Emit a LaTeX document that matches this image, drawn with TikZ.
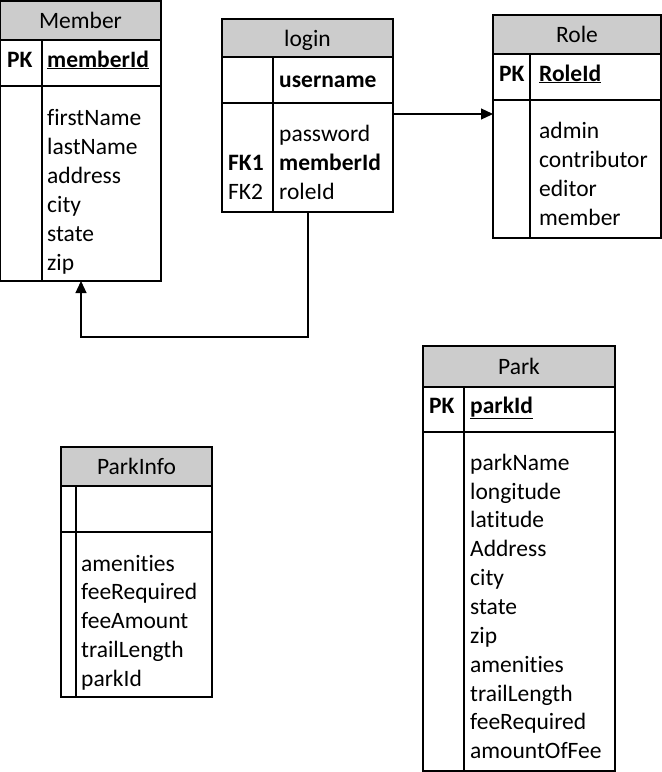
\documentclass[tikz,border=0pt]{standalone}
\usepackage{fontspec}
\setmainfont[Ligatures={NoCommon}]{Carlito}
\usetikzlibrary{arrows.meta}
\definecolor{hdr}{RGB}{204,204,204}
\newcommand\ertable[8]{%
  \fill[hdr] (#2,#3) rectangle (#4,#6);
  \node[tbl, minimum width={#4-#2}, minimum height={#5-#3}] (#1) at (#2,#3) {};
  \draw[ln] (#2,#6) -- (#4,#6) (#2,#7) -- (#4,#7) (#8,#6) -- (#8,#5);
}
\begin{document}
\begin{tikzpicture}[x=1pt,y=-1pt,
  ln/.style={line width=1.2pt},
  tbl/.style={draw=black, line width=1.2pt, inner sep=0pt, outer sep=0pt, anchor=north west},
  txt/.style={anchor=base west, inner sep=0pt, font=\fontsize{23.5}{27}\selectfont},
  ttl/.style={anchor=base, inner sep=0pt, font=\fontsize{23.5}{27}\selectfont},
  arr/.style={line width=1.2pt, -{Triangle[length=12pt,width=11pt]}}]
\useasboundingbox (0,0) rectangle (662,772);

% Member
\ertable{member}{0.6}{1}{161}{281}{40}{86}{42}
\node[ttl] (memberT) at (80.5,28) {Member};
\node[txt] (memberPK) at (7,67) {\textbf{PK}};
\node[txt] (memberK) at (47,67) {\textbf{\underline{memberId}}};
\node[txt] (m1) at (47,125) {firstName};
\node[txt] (m2) at (47,154) {lastName};
\node[txt] (m3) at (47,183) {address};
\node[txt] (m4) at (47,212) {city};
\node[txt] (m5) at (47,241) {state};
\node[txt] (m6) at (47,270) {zip};

% login
\ertable{login}{222}{19}{393}{212}{57}{103}{273}
\node[ttl] (loginT) at (307.5,46) {login};
\node[txt] (loginK) at (279,87) {\textbf{username}};
\node[txt] (l1) at (279,141) {password};
\node[txt] (l2) at (279,170) {\textbf{memberId}};
\node[txt] (l3) at (279,199) {roleId};
\node[txt] (fk1) at (228,170) {\textbf{FK1}};
\node[txt] (fk2) at (228,199) {FK2};

% Role
\ertable{role}{493}{15}{661}{238}{54}{100}{530}
\node[ttl] (roleT) at (577,42) {Role};
\node[txt] (rolePK) at (499,81) {\textbf{PK}};
\node[txt] (roleK) at (539,81) {\textbf{\underline{RoleId}}};
\node[txt] (r1) at (539,138) {admin};
\node[txt] (r2) at (539,167) {contributor};
\node[txt] (r3) at (539,196) {editor};
\node[txt] (r4) at (539,225) {member};

% Park
\ertable{park}{423}{346}{615}{771}{387}{432}{464}
\node[ttl] (parkT) at (519,374) {Park};
\node[txt] (parkPK) at (429,413) {\textbf{PK}};
\node[txt] (parkK) at (470,413) {\textbf{\underline{parkId}}};
\node[txt] (p1) at (470,470) {parkName};
\node[txt] (p2) at (470,499) {longitude};
\node[txt] (p3) at (470,527) {latitude};
\node[txt] (p4) at (470,556) {Address};
\node[txt] (p5) at (470,585) {city};
\node[txt] (p6) at (470,614) {state};
\node[txt] (p7) at (470,643) {zip};
\node[txt] (p8) at (470,672) {amenities};
\node[txt] (p9) at (470,701) {trailLength};
\node[txt] (p10) at (470,729) {feeRequired};
\node[txt] (p11) at (470,758) {amountOfFee};

% ParkInfo
\ertable{parkinfo}{61}{447}{212}{697}{486}{532}{76}
\node[ttl] (parkinfoT) at (136.5,474) {ParkInfo};
\node[txt] (i1) at (81,571) {amenities};
\node[txt] (i2) at (81,599) {feeRequired};
\node[txt] (i3) at (81,628) {feeAmount};
\node[txt] (i4) at (81,657) {trailLength};
\node[txt] (i5) at (81,686) {parkId};

% connectors
\coordinate (a1) at (0,114);
\draw[arr] (login.east |- a1) -- (role.west |- a1);
\coordinate (a2) at (308,337);
\coordinate (a3) at (81,337);
\draw[arr] (login.south -| a2) -- (a2) -- (a3) -- (member.south -| a3);
\end{tikzpicture}
\end{document}
